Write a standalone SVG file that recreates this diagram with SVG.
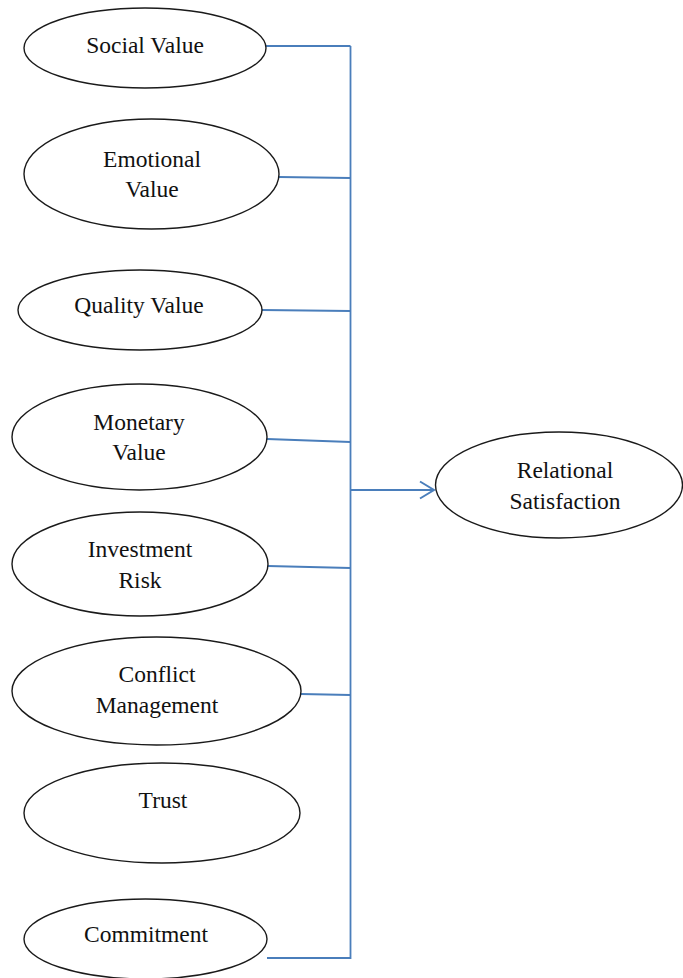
<svg xmlns="http://www.w3.org/2000/svg" width="683" height="978" viewBox="0 0 683 978">
<defs>
<style>
.node ellipse{fill:#fff;stroke:#1a1a1a;stroke-width:1.4}
.node text{font-family:"Liberation Serif","Times New Roman",serif;font-size:23.5px;fill:#111;text-anchor:middle}
.conn line,.conn path{stroke:#4a7ebb;stroke-width:1.8;fill:none}
</style>
<marker id="arr" markerWidth="18" markerHeight="20" refX="15" refY="10" orient="auto" markerUnits="userSpaceOnUse">
<path d="M1,1.5 L15,10 L1,18.5" fill="none" stroke="#4a7ebb" stroke-width="2"/>
</marker>
</defs>
<rect width="683" height="978" fill="#fff"/>
<g class="conn" id="connectors">
<line x1="266" y1="46" x2="350.5" y2="46"/>
<line x1="279" y1="177" x2="350.5" y2="178"/>
<line x1="262" y1="310" x2="350.5" y2="311"/>
<line x1="267" y1="439" x2="350.5" y2="442"/>
<line x1="268" y1="566" x2="350.5" y2="568"/>
<line x1="301" y1="694" x2="350.5" y2="695"/>
<path d="M267,958 H350.5 V46"/>
<line x1="350.5" y1="490" x2="434" y2="490" marker-end="url(#arr)"/>
</g>
<g class="node" id="social"><ellipse cx="145" cy="48" rx="121" ry="40"/><text x="145" y="53">Social Value</text></g>
<g class="node" id="emotional"><ellipse cx="151.5" cy="174" rx="127.5" ry="55"/><text x="152" y="167">Emotional</text><text x="152" y="197">Value</text></g>
<g class="node" id="quality"><ellipse cx="140" cy="310" rx="122" ry="40"/><text x="139" y="313">Quality Value</text></g>
<g class="node" id="monetary"><ellipse cx="139.5" cy="437" rx="127.5" ry="53"/><text x="139" y="430">Monetary</text><text x="139" y="460">Value</text></g>
<g class="node" id="investment"><ellipse cx="140" cy="564" rx="128" ry="52"/><text x="140" y="557">Investment</text><text x="140" y="588">Risk</text></g>
<g class="node" id="conflict"><ellipse cx="156.5" cy="691" rx="144.5" ry="54"/><text x="157" y="682">Conflict</text><text x="157" y="713">Management</text></g>
<g class="node" id="trust"><ellipse cx="162" cy="813" rx="138" ry="50"/><text x="163" y="808">Trust</text></g>
<g class="node" id="commitment"><ellipse cx="145.5" cy="939" rx="121.5" ry="40"/><text x="146" y="942">Commitment</text></g>
<g class="node" id="relational"><ellipse cx="559" cy="485" rx="123.5" ry="53"/><text x="565" y="478">Relational</text><text x="565" y="509">Satisfaction</text></g>
</svg>
